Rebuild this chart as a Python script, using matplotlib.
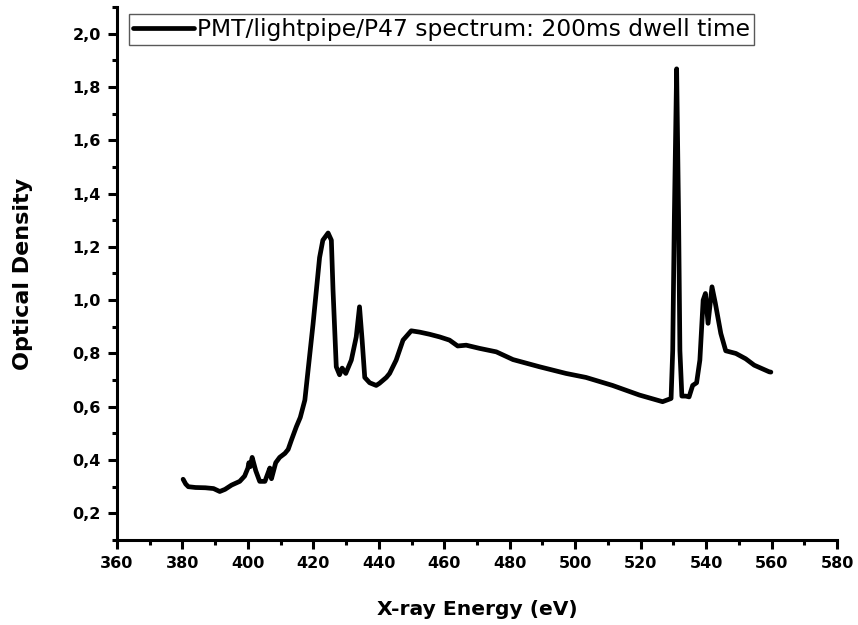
import matplotlib
matplotlib.use('Agg')
import matplotlib.pyplot as plt
from matplotlib.ticker import MultipleLocator

# espectro
energy = [380.2, 381.0, 381.8, 384.0, 387.0, 389.5, 391.4, 393.0, 395.0, 397.5,
          399.0, 400.0, 400.3, 400.7, 401.3, 402.4, 403.6, 405.2, 406.1, 406.7,
          407.2, 408.5, 409.7, 411.3, 412.3, 413.3, 414.8, 416.0, 417.4, 419.9,
          421.9, 422.9, 424.5, 425.5, 426.0, 427.0, 428.0, 428.8, 429.9, 431.6,
          433.1, 434.1, 434.9, 435.7, 437.2, 439.2, 440.2, 442.3, 443.3, 445.3,
          447.4, 449.9, 452.5, 455.5, 458.6, 461.6, 464.1, 466.7, 470.8, 475.9,
          481.0, 489.1, 497.2, 503.3, 511.4, 519.6, 526.7, 529.3, 529.8, 530.3,
          531.0, 531.6, 532.0, 532.6, 533.8, 534.8, 535.9, 537.1, 538.1, 539.1,
          539.8, 540.6, 541.8, 542.8, 544.5, 546.0, 549.1, 552.1, 554.7, 559.3,
          559.8]
od = [0.328, 0.31, 0.30, 0.297, 0.296, 0.293, 0.282, 0.29, 0.306, 0.32,
      0.34, 0.37, 0.39, 0.375, 0.41, 0.36, 0.32, 0.32, 0.35, 0.37,
      0.33, 0.39, 0.41, 0.425, 0.44, 0.475, 0.525, 0.56, 0.625, 0.91,
      1.16, 1.225, 1.252, 1.225, 1.04, 0.75, 0.72, 0.745, 0.725, 0.775,
      0.862, 0.975, 0.85, 0.71, 0.69, 0.68, 0.688, 0.71, 0.725, 0.775,
      0.85, 0.885, 0.88, 0.872, 0.862, 0.85, 0.828, 0.831, 0.819, 0.806,
      0.777, 0.75, 0.725, 0.71, 0.68, 0.644, 0.619, 0.631, 0.81, 1.31,
      1.868, 1.31, 0.81, 0.64, 0.64, 0.637, 0.68, 0.69, 0.775, 1.0,
      1.025, 0.913, 1.05, 0.99, 0.875, 0.81, 0.80, 0.78, 0.756, 0.731,
      0.73]

xticks = [360, 380, 400, 420, 440, 460, 480, 500, 520, 540, 560, 580]
yticks = [0.2, 0.4, 0.6, 0.8, 1.0, 1.2, 1.4, 1.6, 1.8, 2.0]
ytick_labels = ['0,2', '0,4', '0,6', '0,8', '1,0', '1,2', '1,4', '1,6', '1,8', '2,0']
label = 'PMT/lightpipe/P47 spectrum: 200ms dwell time'

fig = plt.figure(figsize=(8.58, 6.25), dpi=100)
ax = fig.add_axes([117/858, 1 - 540/625, 720/858, 533/625])

ax.plot(energy, od, color='black', lw=3.4, solid_joinstyle='round',
        solid_capstyle='round', label=label)

ax.set_xlim(360, 580)
ax.set_ylim(0.1, 2.1)
ax.set_xticks(xticks, [str(t) for t in xticks])
ax.set_yticks(yticks, ytick_labels)
ax.xaxis.set_minor_locator(MultipleLocator(10))
ax.yaxis.set_minor_locator(MultipleLocator(0.1))

for s in ['top', 'right']:
    ax.spines[s].set_visible(False)
for s in ['left', 'bottom']:
    ax.spines[s].set_linewidth(2.2)

ax.tick_params(which='major', direction='out', length=6.5, width=2.2,
               labelsize=11.5, pad=5)
ax.tick_params(which='minor', direction='out', length=3.5, width=2.2)
for t in ax.get_xticklabels() + ax.get_yticklabels():
    t.set_fontweight('bold')

ax.set_xlabel('X-ray Energy (eV)', fontsize=14.6, fontweight='bold')
ax.set_ylabel('Optical Density', fontsize=16, fontweight='bold')
ax.xaxis.set_label_coords(0.5, -0.1126)
ax.yaxis.set_label_coords(-0.117, 0.5)

leg = ax.legend(loc='upper left', bbox_to_anchor=(129/858, 1 - 14/625),
                bbox_transform=fig.transFigure, borderaxespad=0,
                fontsize=16.8, handlelength=2.6, handletextpad=0.15,
                borderpad=0.17, fancybox=False, framealpha=1)
leg.get_frame().set_edgecolor('0.35')
leg.get_frame().set_linewidth(1.0)

fig.savefig('out.png', dpi=100)
